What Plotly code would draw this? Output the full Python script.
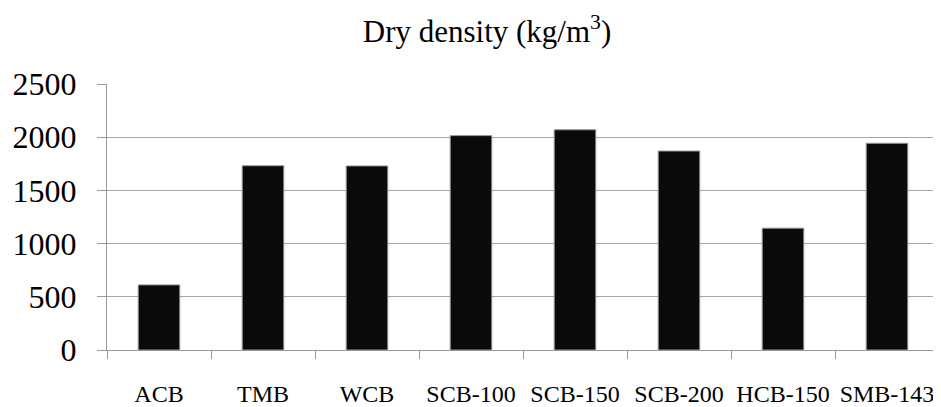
import plotly.graph_objects as go

categories = ["ACB", "TMB", "WCB", "SCB-100", "SCB-150", "SCB-200", "HCB-150", "SMB-143"]
dry_density = [612, 1732, 1730, 2015, 2070, 1870, 1145, 1943]
y_ticks = [0, 500, 1000, 1500, 2000, 2500]

FONT = "Liberation Serif"

# page body has an ~8px margin, so the figure is placed at (8, 8)
W, H = 933, 399

fig = go.Figure(go.Bar(
    x=categories, y=dry_density,
    marker=dict(color="#0a0a0a", line=dict(color="#9a9a9a", width=1)),
))

fig.update_layout(
    width=W, height=H,
    margin=dict(l=99, r=2, t=76, b=57, autoexpand=False),
    paper_bgcolor="white", plot_bgcolor="white",
    bargap=0.6,
    showlegend=False,
    font=dict(family=FONT, color="black"),
    title=dict(text="Dry density (kg/m<sup>3</sup>)", x=479/W, xanchor="center",
               xref="container", y=1 - 23/H, yanchor="middle", yref="container",
               font=dict(family=FONT, size=31, color="black")),
)

fig.update_xaxes(
    type="category", tickson="boundaries", ticks="outside", ticklen=8, tickcolor="#9a9a9a",
    showline=True, linecolor="#9a9a9a", linewidth=1, showgrid=False,
    tickangle=0, automargin=False,
    tickfont=dict(family=FONT, size=24, color="black"), ticklabelstandoff=22,
)
fig.update_yaxes(
    range=[0, 2500], tickvals=y_ticks, ticks="outside", ticklen=9, tickcolor="#9a9a9a",
    showline=True, linecolor="#9a9a9a", linewidth=1, automargin=False,
    showgrid=True, gridcolor="#a6a6a6", gridwidth=1, zeroline=False,
    tickfont=dict(family=FONT, size=32, color="black"), ticklabelstandoff=14,
)

fig.write_html("out.html")
